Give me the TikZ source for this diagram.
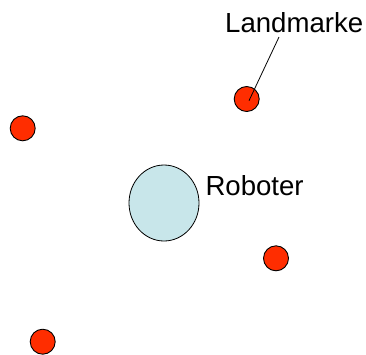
\documentclass[tikz,border=0pt]{standalone}
\usepackage{fontspec}
\setmainfont{Liberation Sans}
\usetikzlibrary{shapes.geometric,calc}
\definecolor{lmred}{RGB}{255,45,0}
\definecolor{robblue}{RGB}{200,230,234}
\begin{document}
\begin{tikzpicture}[x=1pt,y=1pt,
  landmark/.style={circle,draw=black,line width=0.9pt,fill=lmred,minimum size=25pt,inner sep=0pt},
  robot/.style={ellipse,draw=black,line width=0.8pt,fill=robblue,minimum width=70pt,minimum height=76pt,inner sep=0pt},
  lbl/.style={anchor=base west,inner sep=0pt,font=\fontsize{27.6}{31}\selectfont}]
\useasboundingbox (0,0) rectangle (366,-354);
\node[landmark] (lm1) at (246.7,-99) {};
\node[landmark] (lm2) at (22.7,-128.3) {};
\node[landmark] (lm3) at (276,-258.3) {};
\node[landmark] (lm4) at (42.7,-341.7) {};
\node[robot] (rob) at (164,-203) {};
\node[lbl] (tland) at (225,-32) {Landmarke};
\node[lbl] (trob) at (205.3,-195) {Roboter};
\coordinate (lstart) at (279,-37);
\draw[line width=0.8pt] (lstart) -- ($(lm1.center)+(2.3,-1.7)$);
\end{tikzpicture}
\end{document}
